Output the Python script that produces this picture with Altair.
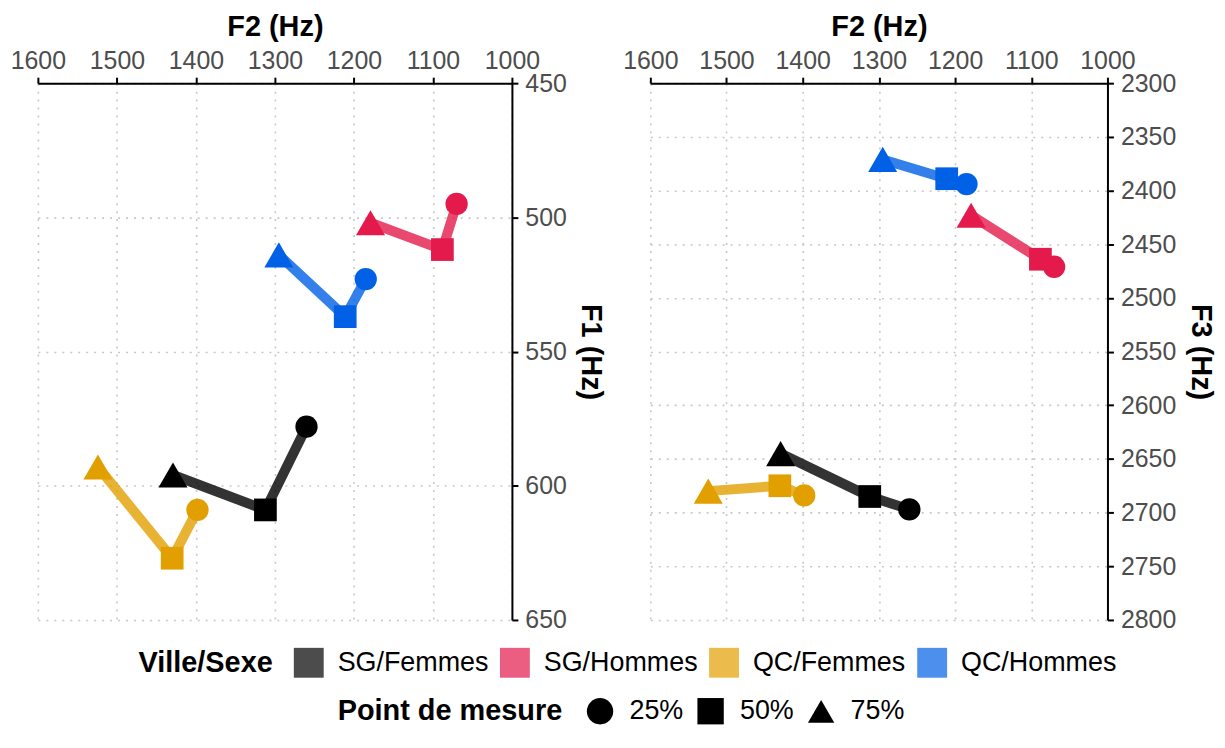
import altair as alt
import pandas as pd

# ---- data ----
groupes = ["SG/Femmes", "SG/Hommes", "QC/Femmes", "QC/Hommes"]
points = ["25%", "50%", "75%"]

f2_sg_femmes = [1260, 1312, 1429]
f2_sg_hommes = [1070, 1088, 1179]
f2_qc_femmes = [1398, 1430, 1524]
f2_qc_hommes = [1185, 1211, 1295]

f1_sg_femmes = [578, 609, 596]
f1_sg_hommes = [495, 512, 502]
f1_qc_femmes = [609, 627, 593]
f1_qc_hommes = [523, 537, 514]

f3_sg_femmes = [2697, 2685, 2645]
f3_sg_hommes = [2471, 2464, 2423]
f3_qc_femmes = [2684, 2675, 2680]
f3_qc_hommes = [2394, 2389, 2371]

couleurs = ["#000000", "#E31A4B", "#E29F00", "#0060E6"]
tailles = [500, 520, 850]
x_ticks = [1000, 1100, 1200, 1300, 1400, 1500, 1600]
f1_ticks = [450, 500, 550, 600, 650]
f3_ticks = [2300, 2350, 2400, 2450, 2500, 2550, 2600, 2650, 2700, 2750, 2800]

f2_all = [f2_sg_femmes, f2_sg_hommes, f2_qc_femmes, f2_qc_hommes]
f1_all = [f1_sg_femmes, f1_sg_hommes, f1_qc_femmes, f1_qc_hommes]
f3_all = [f3_sg_femmes, f3_sg_hommes, f3_qc_femmes, f3_qc_hommes]

rows = []
for g, f2s, f1s, f3s in zip(groupes, f2_all, f1_all, f3_all):
    for i, p in enumerate(points):
        rows.append({"groupe": g, "serie": g, "point": p, "ordre": i,
                     "F2": f2s[i], "F1": f1s[i], "F3": f3s[i]})
df = pd.DataFrame(rows)

FONT = "Liberation Sans"

color_scale = alt.Scale(domain=groupes, range=couleurs)
# same mapping, listed in reverse order so that the (legend-less) line scale
# is not merged with the colour legend
stroke_scale = alt.Scale(domain=groupes[::-1], range=couleurs[::-1])
shape_scale = alt.Scale(domain=points, range=["circle", "square", "triangle-up"])
size_scale = alt.Scale(domain=[0, 1, 2], range=tailles)

color_legend = alt.Legend(
    title="Ville/Sexe", orient="none", legendX=101, legendY=567,
    direction="horizontal", titleOrient="left",
    symbolType="M-1,-1L1,-1L1,1L-1,1Z", symbolSize=900,
    symbolOpacity=0.7, symbolStrokeWidth=0,
    titleFontSize=29, titleFontWeight="bold", titleColor="black",
    labelFontSize=27, labelColor="black", labelOffset=14,
    columnPadding=11, titlePadding=21, titleBaseline="middle",
    titleLimit=500, labelLimit=400,
)

shape_legend = alt.Legend(
    title="Point de mesure", orient="none", legendX=301, legendY=617,
    direction="horizontal", titleOrient="left",
    titleFontSize=29, titleFontWeight="bold", titleColor="black",
    labelFontSize=27, labelColor="black", labelOffset=16,
    columnPadding=13, titlePadding=24, titleBaseline="middle",
    titleLimit=500, labelLimit=400,
    symbolSize=700,
    symbolFillColor="black", symbolStrokeWidth=0, symbolOpacity=1,
)


def panel(ycol, ytitle, ydomain, yticks, width, ytitle_pad):
    base = alt.Chart(df)
    x = alt.X("F2:Q",
              scale=alt.Scale(domain=[1000, 1600], reverse=True, nice=False, zero=False),
              axis=alt.Axis(orient="top", values=x_ticks, title="F2 (Hz)", format="d",
                            labelOverlap=False, labelFlush=False))
    y = alt.Y(f"{ycol}:Q",
              scale=alt.Scale(domain=ydomain, reverse=True, nice=False, zero=False),
              axis=alt.Axis(orient="right", values=yticks, title=ytitle, format="d",
                            labelOverlap=False, labelFlush=False,
                            titlePadding=ytitle_pad))
    lines = base.mark_line(strokeWidth=10, opacity=0.8, strokeCap="butt").encode(
        x=x, y=y,
        stroke=alt.Stroke("serie:N", scale=stroke_scale, legend=None),
        detail="serie:N",
        order="ordre:Q",
    )
    pts = base.mark_point(filled=True, opacity=1, strokeWidth=0).encode(
        x=x, y=y,
        color=alt.Color("groupe:N", scale=color_scale, legend=color_legend),
        shape=alt.Shape("point:N", scale=shape_scale, legend=shape_legend),
        size=alt.Size("ordre:Q", scale=size_scale, legend=None),
    )
    return alt.layer(lines, pts).properties(width=width, height=539)


left = panel("F1", "F1 (Hz)", [450, 650], f1_ticks, 476, 9)
right = panel("F3", "F3 (Hz)", [2300, 2800], f3_ticks, 459, 10)

chart = alt.hconcat(left, right, spacing=18).properties(
    padding={"left": 2, "top": 3, "right": 2, "bottom": 0}
).configure(
    font=FONT,
).configure_view(
    stroke=None,
).configure_axis(
    domainColor="black", domainWidth=2,
    tickColor="black", tickWidth=2, tickSize=6,
    labelFont=FONT, labelFontSize=25, labelColor="#4D4D4D",
    titleFont=FONT, titleFontSize=29, titleFontWeight="bold", titleColor="black",
    grid=True, gridColor="#C8C8C8", gridDash=[2, 6], gridWidth=1.6,
).configure_axisTop(
    labelPadding=4, titlePadding=7,
).configure_axisRight(
    labelPadding=7,
).configure_legend(
    labelFont=FONT, titleFont=FONT,
)

chart.save("out.html", embed_options={"renderer": "svg", "actions": False})
